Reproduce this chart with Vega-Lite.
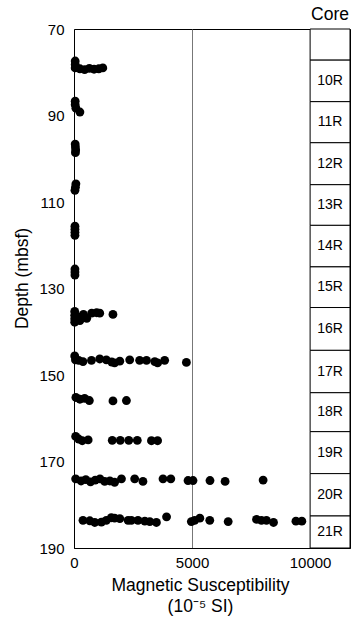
{
  "$schema": "https://vega.github.io/schema/vega-lite/v6.json",
  "width": 276,
  "height": 519,
  "autosize": {"type": "none"},
  "padding": {"left": 74, "top": 29, "right": 12, "bottom": 70},
  "background": "white",
  "config": {
    "view": {"stroke": "#000", "strokeWidth": 1},
    "axis": {
      "labelFont": "Liberation Sans", "labelFontSize": 15, "labelColor": "#000",
      "titleFont": "Liberation Sans", "titleFontSize": 17.5, "titleFontWeight": "normal", "titleColor": "#000",
      "domainColor": "#000", "ticks": false, "labelFlush": false, "labelOverlap": false
    }
  },
  "datasets": {
    "pts": [
      {"ms": 50, "depth": 77.4}, {"ms": 50, "depth": 78.2}, {"ms": 50, "depth": 79.0}, {"ms": 250, "depth": 79.2}, {"ms": 450, "depth": 79.4}, {"ms": 650, "depth": 79.1}, {"ms": 850, "depth": 79.3}, {"ms": 1050, "depth": 79.2}, {"ms": 1220, "depth": 79.0},
      {"ms": 50, "depth": 86.7}, {"ms": 50, "depth": 87.5}, {"ms": 80, "depth": 88.3}, {"ms": 250, "depth": 89.2},
      {"ms": 50, "depth": 96.6}, {"ms": 60, "depth": 97.3}, {"ms": 70, "depth": 98.0}, {"ms": 60, "depth": 98.6},
      {"ms": 80, "depth": 105.8}, {"ms": 60, "depth": 106.6}, {"ms": 40, "depth": 107.3},
      {"ms": 40, "depth": 115.6}, {"ms": 40, "depth": 116.3}, {"ms": 40, "depth": 117.0}, {"ms": 40, "depth": 117.7},
      {"ms": 40, "depth": 125.5}, {"ms": 40, "depth": 126.2}, {"ms": 40, "depth": 126.9},
      {"ms": 30, "depth": 135.3}, {"ms": 30, "depth": 136.2}, {"ms": 30, "depth": 137.0}, {"ms": 30, "depth": 137.8}, {"ms": 150, "depth": 136.5}, {"ms": 250, "depth": 137.4}, {"ms": 400, "depth": 136.0}, {"ms": 540, "depth": 136.9}, {"ms": 750, "depth": 135.7}, {"ms": 960, "depth": 135.6}, {"ms": 1090, "depth": 135.7}, {"ms": 1650, "depth": 136.0},
      {"ms": 30, "depth": 145.6}, {"ms": 60, "depth": 146.5}, {"ms": 200, "depth": 146.6}, {"ms": 380, "depth": 146.9}, {"ms": 740, "depth": 146.6}, {"ms": 1090, "depth": 146.3}, {"ms": 1370, "depth": 146.5}, {"ms": 1600, "depth": 147.0}, {"ms": 1720, "depth": 147.2}, {"ms": 1940, "depth": 146.8}, {"ms": 2360, "depth": 146.5}, {"ms": 2780, "depth": 146.6}, {"ms": 3070, "depth": 146.6}, {"ms": 3420, "depth": 146.9}, {"ms": 3540, "depth": 147.2}, {"ms": 3840, "depth": 146.6}, {"ms": 4760, "depth": 147.1},
      {"ms": 80, "depth": 155.2}, {"ms": 250, "depth": 155.6}, {"ms": 450, "depth": 155.4}, {"ms": 650, "depth": 155.9}, {"ms": 1650, "depth": 156.0}, {"ms": 2220, "depth": 155.9},
      {"ms": 70, "depth": 164.2}, {"ms": 200, "depth": 164.8}, {"ms": 350, "depth": 165.2}, {"ms": 600, "depth": 165.0}, {"ms": 1620, "depth": 165.1}, {"ms": 1960, "depth": 165.1}, {"ms": 2320, "depth": 165.1}, {"ms": 2680, "depth": 165.1}, {"ms": 3280, "depth": 165.2}, {"ms": 3540, "depth": 165.2},
      {"ms": 70, "depth": 174.0}, {"ms": 300, "depth": 174.5}, {"ms": 500, "depth": 174.2}, {"ms": 700, "depth": 174.7}, {"ms": 900, "depth": 174.3}, {"ms": 1100, "depth": 174.0}, {"ms": 1300, "depth": 174.6}, {"ms": 1520, "depth": 174.5}, {"ms": 1720, "depth": 174.8}, {"ms": 2010, "depth": 174.0}, {"ms": 2570, "depth": 174.0}, {"ms": 2920, "depth": 174.6}, {"ms": 3770, "depth": 174.0}, {"ms": 4100, "depth": 174.0}, {"ms": 4830, "depth": 174.4}, {"ms": 5040, "depth": 174.4}, {"ms": 5760, "depth": 174.4}, {"ms": 6400, "depth": 174.6}, {"ms": 8010, "depth": 174.3},
      {"ms": 380, "depth": 183.6}, {"ms": 670, "depth": 183.7}, {"ms": 880, "depth": 184.1}, {"ms": 1160, "depth": 184.0}, {"ms": 1370, "depth": 183.6}, {"ms": 1580, "depth": 183.0}, {"ms": 1720, "depth": 183.1}, {"ms": 1940, "depth": 183.2}, {"ms": 2290, "depth": 183.6}, {"ms": 2430, "depth": 183.6}, {"ms": 2710, "depth": 183.6}, {"ms": 3000, "depth": 183.8}, {"ms": 3210, "depth": 183.9}, {"ms": 3490, "depth": 184.1}, {"ms": 3920, "depth": 182.8}, {"ms": 4970, "depth": 183.9}, {"ms": 5110, "depth": 183.6}, {"ms": 5330, "depth": 183.1}, {"ms": 5750, "depth": 183.6}, {"ms": 6530, "depth": 183.9}, {"ms": 7730, "depth": 183.4}, {"ms": 7940, "depth": 183.6}, {"ms": 8150, "depth": 183.6}, {"ms": 8450, "depth": 184.1}, {"ms": 9400, "depth": 183.8}, {"ms": 9650, "depth": 183.8}
    ],
    "cores": [
      {"top": 70, "bottom": 77.2, "core": ""},
      {"top": 77.2, "bottom": 86.8, "core": "10R"},
      {"top": 86.8, "bottom": 96.3, "core": "11R"},
      {"top": 96.3, "bottom": 106.0, "core": "12R"},
      {"top": 106.0, "bottom": 115.4, "core": "13R"},
      {"top": 115.4, "bottom": 125.0, "core": "14R"},
      {"top": 125.0, "bottom": 134.4, "core": "15R"},
      {"top": 134.4, "bottom": 144.3, "core": "16R"},
      {"top": 144.3, "bottom": 154.1, "core": "17R"},
      {"top": 154.1, "bottom": 163.1, "core": "18R"},
      {"top": 163.1, "bottom": 172.8, "core": "19R"},
      {"top": 172.8, "bottom": 182.6, "core": "20R"},
      {"top": 182.6, "bottom": 190, "core": "21R"}
    ]
  },
  "layer": [
    {
      "data": {"name": "pts"},
      "mark": {"type": "point", "shape": "circle", "filled": true, "color": "#000", "opacity": 1, "size": 78},
      "encoding": {
        "x": {
          "field": "ms", "type": "quantitative",
          "scale": {"domain": [0, 11690], "nice": false, "zero": false},
          "axis": {
            "values": [0, 5000, 10000], "format": "d", "grid": true, "gridColor": "#777", "gridWidth": 1,
            "labelPadding": 7,
            "title": ["Magnetic Susceptibility", "(10⁻⁵ SI)"],
            "titleX": 126, "titleY": 28, "titleBaseline": "top", "titleLineHeight": 21, "titleAlign": "center"
          }
        },
        "y": {
          "field": "depth", "type": "quantitative",
          "scale": {"domain": [70, 190], "reverse": true, "nice": false, "zero": false},
          "axis": {
            "values": [70, 90, 110, 130, 150, 170, 190], "format": "d", "grid": false, "labelPadding": 10,
            "title": "Depth (mbsf)", "titleX": -43, "titleY": 249, "titleAngle": 270, "titleBaseline": "bottom", "titleAlign": "center"
          }
        }
      }
    },
    {
      "data": {"name": "cores"},
      "mark": {"type": "rect", "fill": "white", "stroke": "#000", "strokeWidth": 1},
      "encoding": {
        "x": {"datum": 10000, "type": "quantitative"},
        "x2": {"datum": 11690},
        "y": {"field": "top", "type": "quantitative"},
        "y2": {"field": "bottom"}
      }
    },
    {
      "data": {"name": "cores"},
      "transform": [{"calculate": "(datum.top + datum.bottom) / 2", "as": "mid"}],
      "mark": {"type": "text", "font": "Liberation Sans", "fontSize": 14, "color": "#000", "align": "center", "baseline": "middle"},
      "encoding": {
        "x": {"datum": 10845, "type": "quantitative"},
        "y": {"field": "mid", "type": "quantitative"},
        "text": {"field": "core"}
      }
    },
    {
      "data": {"values": [{"label": "Core"}]},
      "mark": {"type": "text", "font": "Liberation Sans", "fontSize": 17.5, "color": "#000", "align": "center", "baseline": "middle", "dy": -14},
      "encoding": {
        "x": {"datum": 10845, "type": "quantitative"},
        "y": {"datum": 70, "type": "quantitative"},
        "text": {"field": "label"}
      }
    }
  ]
}
